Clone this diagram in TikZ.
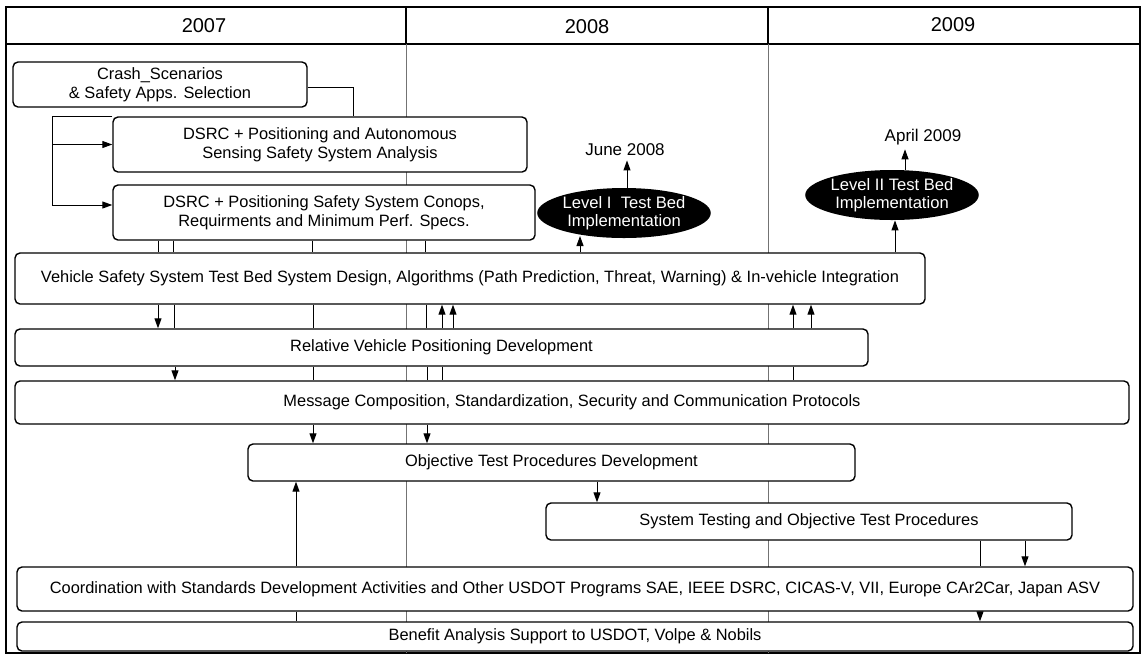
\documentclass[tikz,border=0pt]{standalone}
\usepackage{fontspec}
\setmainfont{Liberation Sans}
\usetikzlibrary{arrows.meta,shapes.geometric}
\begin{document}
\begin{tikzpicture}[x=0.5pt,y=-0.5pt,
  box/.style={draw, line width=0.7pt, rounded corners=2.5pt, fill=white, inner sep=0pt, align=center, font=\fontsize{8.2}{9.6}\selectfont},
  line/.style={line width=0.5pt},
  arr/.style={line width=0.5pt, -{Triangle[length=5pt,width=3.5pt]}},
  col/.style={line width=0.5pt, black!55},
  year/.style={font=\fontsize{10}{12}\selectfont},
  oval/.style={ellipse, fill=black, text=white, inner sep=0pt, minimum width=81pt, minimum height=25pt, align=center, font=\fontsize{8.3}{9}\selectfont},
  date/.style={font=\fontsize{8.5}{9.5}\selectfont, inner sep=2pt}]
\useasboundingbox (0,0) rectangle (1146,655);
% frame and header
\draw[line width=0.7pt] (6,7) rectangle (1140,653);
\draw[line width=0.7pt] (6,44) -- (1140,44);
\draw[line width=0.6pt] (406,7) -- (406,44);
\draw[line width=0.6pt] (768,7) -- (768,44);
\draw[col] (406,44) -- (406,653);
\draw[col] (768,44) -- (768,653);
\node[year] (y7) at (204,26) {2007};
\node[year] (y8) at (587,27) {2008};
\node[year] (y9) at (953,25) {2009};
% boxes
\node[box, minimum width=147pt, minimum height=22.5pt] (crash) at (160,84.5) {Crash\_Scenarios\\\& Safety Apps. Selection};
\node[box, minimum width=207pt, minimum height=27.5pt] (dsrc1) at (320,144.5) {DSRC + Positioning and Autonomous\\Sensing Safety System Analysis};
\node[box, minimum width=211pt, minimum height=27.5pt] (dsrc2) at (324,212.5) {DSRC + Positioning Safety System Conops,\\Requirments and Minimum Perf. Specs.};
\node[box, minimum width=455pt, minimum height=25.5pt] (veh) at (470,278.5) {Vehicle Safety System Test Bed System Design, Algorithms (Path Prediction, Threat, Warning) \& In-vehicle Integration};
\node[box, minimum width=426.5pt, minimum height=18.5pt] (rel) at (441.5,347.5) {Relative Vehicle Positioning Development};
\node[box, minimum width=557pt, minimum height=21.5pt] (msg) at (572,402.5) {Message Composition, Standardization, Security and Communication Protocols};
\node[box, minimum width=303.5pt, minimum height=18.5pt] (obj) at (551.5,462.5) {Objective Test Procedures Development};
\node[box, minimum width=263pt, minimum height=18.5pt] (sys) at (809,521.5) {System Testing and Objective Test Procedures};
\node[box, minimum width=558pt, minimum height=22pt] (coord) at (575,589) {Coordination with Standards Development Activities and Other USDOT Programs SAE, IEEE DSRC, CICAS-V, VII, Europe CAr2Car, Japan ASV};
\node[box, minimum width=558pt, minimum height=14.5pt] (ben) at (575,636.5) {Benefit Analysis Support to USDOT, Volpe \& Nobils};
% milestones
\node[oval] (e1) at (624,213) {Level I\ \ Test Bed\\Implementation};
\node[oval] (e2) at (892,195) {Level II Test Bed\\Implementation};
\node[date] (june) at (625,150) {June 2008};
\node[date] (april) at (923,137) {April 2009};
% connectors
\draw[line] ([yshift=-1.25pt]crash.east) -| (353,0 |- dsrc1.north);
\draw[line] (dsrc1.north west) -- (52,0 |- dsrc1.north west) -- (52,205);
\draw[arr] (52,0 |- dsrc1.west) -- (dsrc1.west);
\draw[arr] (52,205) -- (dsrc2.west |- 0,205);
\foreach \x in {158,173,312,425}
  \draw[line] (\x,0 |- dsrc2.south) -- (\x,0 |- veh.north);
\draw[arr] (580,0 |- veh.north) -- (580,236);
\draw[arr] (627,0 |- e1.north) -- (627,0 |- june.south);
\draw[arr] (895,0 |- veh.north) -- (895,0 |- e2.south);
\draw[arr] (905,0 |- e2.north) -- (905,0 |- april.south);
% vehicle -> relative
\draw[arr] (158,0 |- veh.south) -- (158,0 |- rel.north);
\foreach \x in {174,313,426}
  \draw[line] (\x,0 |- veh.south) -- (\x,0 |- rel.north);
\foreach \x in {442,453,793,811}
  \draw[arr] (\x,0 |- rel.north) -- (\x,0 |- veh.south);
% relative -> message
\draw[arr] (175,0 |- rel.south) -- (175,0 |- msg.north);
\foreach \x in {313,427,442,793}
  \draw[line] (\x,0 |- rel.south) -- (\x,0 |- msg.north);
% message -> objective
\foreach \x in {313,427}
  \draw[arr] (\x,0 |- msg.south) -- (\x,0 |- obj.north);
% objective -> system
\draw[arr] (597,0 |- obj.south) -- (597,0 |- sys.north);
% coordination -> objective
\draw[arr] (296,0 |- coord.north) -- (296,0 |- obj.south);
% system -> coordination
\draw[line] (980,0 |- sys.south) -- (980,0 |- coord.north);
\draw[arr] (1025,0 |- sys.south) -- (1025,0 |- coord.north);
% coordination -> benefit
\draw[line] (296,0 |- coord.south) -- (296,0 |- ben.north);
\draw[arr] (980,0 |- coord.south) -- (980,0 |- ben.north);
\end{tikzpicture}
\end{document}
